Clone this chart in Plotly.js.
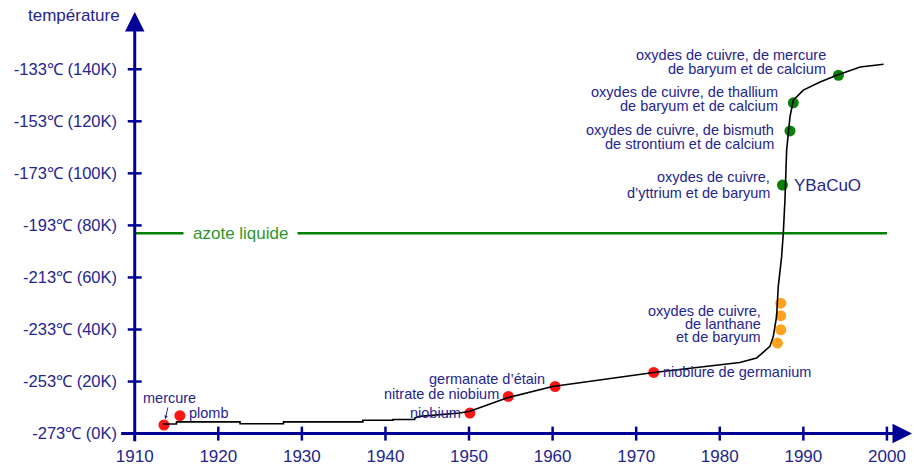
<!DOCTYPE html>
<html>
<head>
<meta charset="utf-8">
<script src="https://cdn.plot.ly/plotly-3.0.1.min.js"></script>
<style>html,body{margin:0;padding:0;background:#fff;}#chart{width:914px;height:466px;}</style>
</head>
<body>
<div id="chart"></div>
<script>
// ---- data ----
const curveYears = [1913.4,1915.0,1915.0,1922.6,1922.6,1927.8,1927.8,1937.3,1937.3,1940.9,1940.9,1943.5,1943.5,1944.1,1948.9,1950.1,1954.5,1960.0,1972.1,1980.0,1982.4,1984.4,1985.6,1986.0,1986.4,1986.8,1987.0,1987.4,1987.6,1987.8,1988.0,1988.2,1988.4,1988.8,1990.0,1992.0,1994.0,1996.8,1999.6];
const curveKelvin = [3.7,3.7,4.5,4.5,3.8,3.8,4.5,4.5,5.1,5.1,5.4,5.4,6.0,6.6,7.9,8.6,13.7,18.1,23.5,26.5,27.3,29.0,32.2,33.5,37.3,45.0,56.5,68.0,77.0,89.8,108.9,115.3,121.7,128.1,132.0,135.1,137.7,140.9,141.9];

const redNames = ["mercure","plomb","niobium","nitrate de niobium","germanate d’étain","niobiure de germanium"];
const redYears = [1913.5,1915.4,1950.1,1954.7,1960.3,1972.1];
const redKelvin = [3.3,6.9,7.9,14.3,18.1,23.5];

const orangeYears = [1987.3,1987.3,1987.3,1986.9];
const orangeKelvin = [50.1,45.3,39.9,34.8];
const orangeLabel = ["oxydes de cuivre,","de lanthane","et de baryum"];

const greenYears = [1987.5,1988.4,1988.8,1994.2];
const greenKelvin = [95.5,116.3,127.1,137.7];
const greenLabels = [
  ["oxydes de cuivre,","d’yttrium et de baryum"],
  ["oxydes de cuivre, de bismuth","de strontium et de calcium"],
  ["oxydes de cuivre, de thallium","de baryum et de calcium"],
  ["oxydes de cuivre, de mercure","de baryum et de calcium"]
];
const ybacuo = "YBaCuO";

const nitrogenK = 77;
const nitrogenLabel = "azote liquide";

const xTickVals = [1910,1920,1930,1940,1950,1960,1970,1980,1990,2000];
const yTickVals = [0,20,40,60,80,100,120,140];
const yTickText = ["-273℃ (0K)","-253℃ (20K)","-233℃ (40K)","-213℃ (60K)","-193℃ (80K)","-173℃ (100K)","-153℃ (120K)","-133℃ (140K)"];
const yTitle = "température";

// ---- styling ----
const NAVY = "#000096";
const TXT = "#25258f";
const FONT = "Liberation Sans, Arial, sans-serif";
const GREEN = "#008000";

const traces = [
  {x:[1910,2000], y:[nitrogenK,nitrogenK], mode:"lines", line:{color:GREEN,width:2.5}, hoverinfo:"skip"},
  {x:redYears, y:redKelvin, mode:"markers", marker:{color:"#ff1414",size:11}},
  {x:orangeYears, y:orangeKelvin, mode:"markers", marker:{color:"#ffa21e",size:11}},
  {x:greenYears, y:greenKelvin, mode:"markers", marker:{color:"#0a820a",size:11}},
  {x:curveYears, y:curveKelvin, mode:"lines", line:{color:"#000",width:1.6}}
];

const shapes = [];
xTickVals.slice(1).forEach(v => shapes.push({type:"line", xref:"x", yref:"y", x0:v, x1:v,
  ysizemode:"pixel", yanchor:0, y0:-7, y1:7, line:{color:NAVY,width:2.5}}));
yTickVals.slice(1).forEach(v => shapes.push({type:"line", xref:"x", yref:"y", y0:v, y1:v,
  xsizemode:"pixel", xanchor:1910, x0:-7, x1:7, line:{color:NAVY,width:2.5}}));

const ann = [];
const lab = (x,y,text,opt) => ann.push(Object.assign({x:x,y:y,xref:"x",yref:"y",text:text,showarrow:false,
  font:{family:FONT,size:14.5,color:TXT}}, opt));

// axes with arrows
ann.push({x:1910,y:162,xref:"x",yref:"y",ax:1910,ay:-3.5,axref:"x",ayref:"y",text:"",showarrow:true,
  arrowhead:2,arrowsize:1.3,arrowwidth:3,arrowcolor:NAVY,standoff:0,startstandoff:0});
ann.push({x:2003,y:0,xref:"x",yref:"y",ax:1908.2,ay:0,axref:"x",ayref:"y",text:"",showarrow:true,
  arrowhead:2,arrowsize:1.3,arrowwidth:3,arrowcolor:NAVY,standoff:0,startstandoff:0});
ann.push({x:1910,y:1,xref:"x",yref:"paper",text:yTitle,showarrow:false,xanchor:"right",yanchor:"middle",
  xshift:-13,yshift:-3,font:{family:FONT,size:17,color:TXT}});

// red labels
ann.push({x:redYears[0],y:redKelvin[0],xref:"x",yref:"y",text:redNames[0],showarrow:true,ax:6,ay:-27,
  arrowhead:2,arrowsize:0.7,arrowwidth:1,arrowcolor:TXT,standoff:6,font:{family:FONT,size:14.5,color:TXT}});
lab(redYears[1],redKelvin[1],redNames[1],{xanchor:"left",xshift:7,yshift:3});
lab(redYears[2],redKelvin[2],redNames[2],{xanchor:"right",xshift:-7,yshift:0});
lab(redYears[3],redKelvin[3],redNames[3],{xanchor:"right",xshift:-7,yshift:2});
lab(redYears[4],redKelvin[4],redNames[4],{xanchor:"right",xshift:-8,yshift:7});
lab(redYears[5],redKelvin[5],redNames[5],{xanchor:"left",xshift:7,yshift:0});

// orange label (anchored on second orange dot)
[4.5,-8.5,-21.5].forEach((dy,i) => lab(orangeYears[1],orangeKelvin[1],orangeLabel[i],{xanchor:"right",xshift:-18,yshift:dy}));

// green labels
const gOff = [[-10,[8,-8]],[-14,[1,-13]],[-13,[11,-3.5]],[-10,[20,6.5]]];
greenLabels.forEach((lines,i) => lines.forEach((t,j) =>
  lab(greenYears[i],greenKelvin[i],t,{xanchor:"right",xshift:gOff[i][0],yshift:gOff[i][1][j]})));
lab(greenYears[0],greenKelvin[0],ybacuo,{xanchor:"left",xshift:10,yshift:0,font:{family:FONT,size:17,color:TXT}});

// nitrogen label
ann.push({x:1922.7,y:nitrogenK,xref:"x",yref:"y",text:nitrogenLabel,showarrow:false,bgcolor:"#fff",borderpad:9,
  xanchor:"center",yanchor:"middle",font:{family:FONT,size:17,color:"#2f962f"}});

const layout = {
  width:914, height:466,
  margin:{l:118,r:2,t:12,b:22},
  paper_bgcolor:"#fff", plot_bgcolor:"#fff",
  showlegend:false,
  xaxis:{range:[1908,2003], showgrid:false, zeroline:false, showline:false, ticks:"",
    tickvals:xTickVals, ticktext:xTickVals.map(String), tickfont:{family:FONT,size:17,color:TXT}},
  yaxis:{range:[-4,162], showgrid:false, zeroline:false, showline:false, ticks:"",
    tickvals:yTickVals, ticktext:yTickText, tickfont:{family:FONT,size:16.5,color:TXT}},
  shapes:shapes,
  annotations:ann
};
Plotly.newPlot("chart", traces, layout, {displayModeBar:false, staticPlot:true});
</script>
</body>
</html>
